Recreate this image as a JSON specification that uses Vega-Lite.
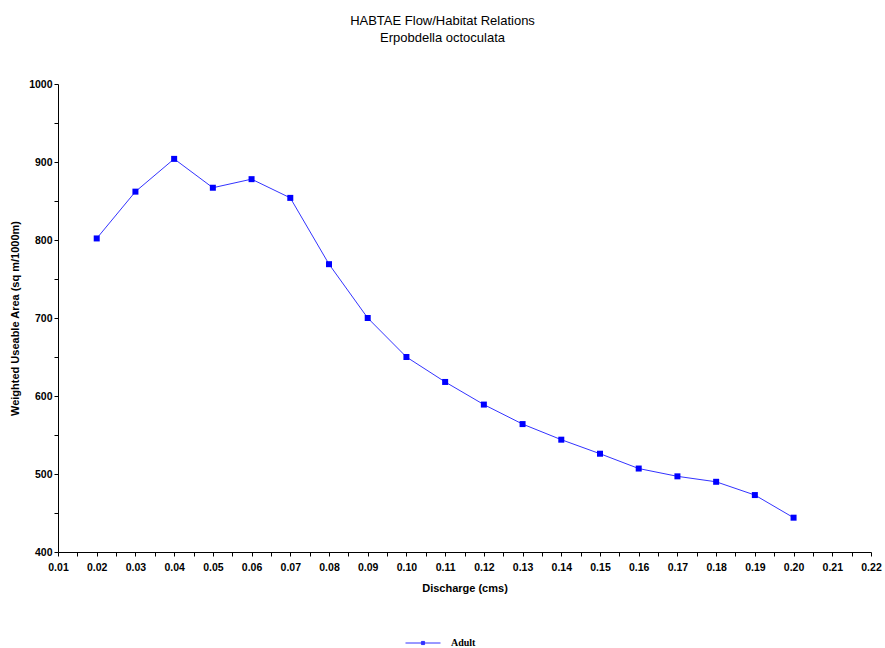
{
  "$schema": "https://vega.github.io/schema/vega-lite/v6.json",
  "width": 813,
  "height": 468,
  "autosize": "none",
  "padding": {"left": 58, "top": 84, "right": 14, "bottom": 96},
  "background": "white",
  "title": {
    "text": ["HABTAE Flow/Habitat Relations", "Erpobdella octoculata"],
    "font": "Liberation Sans",
    "fontSize": 13,
    "fontWeight": "normal",
    "lineHeight": 17,
    "anchor": "middle",
    "dx": -22,
    "offset": 34,
    "color": "black"
  },
  "config": {
    "view": {"stroke": null},
    "axis": {
      "grid": false,
      "domainColor": "black",
      "tickColor": "black",
      "labelColor": "black",
      "titleColor": "black",
      "labelFont": "Liberation Sans",
      "titleFont": "Liberation Sans",
      "labelFontWeight": "bold",
      "titleFontWeight": "bold",
      "labelFontSize": 10.5,
      "titleFontSize": 11
    }
  },
  "data": {
    "values": [
      {"q": 0.02, "wua": 802, "s": "Adult"},
      {"q": 0.03, "wua": 862, "s": "Adult"},
      {"q": 0.04, "wua": 904, "s": "Adult"},
      {"q": 0.05, "wua": 867, "s": "Adult"},
      {"q": 0.06, "wua": 878, "s": "Adult"},
      {"q": 0.07, "wua": 854, "s": "Adult"},
      {"q": 0.08, "wua": 769, "s": "Adult"},
      {"q": 0.09, "wua": 700, "s": "Adult"},
      {"q": 0.10, "wua": 650, "s": "Adult"},
      {"q": 0.11, "wua": 618, "s": "Adult"},
      {"q": 0.12, "wua": 589, "s": "Adult"},
      {"q": 0.13, "wua": 564, "s": "Adult"},
      {"q": 0.14, "wua": 544, "s": "Adult"},
      {"q": 0.15, "wua": 526, "s": "Adult"},
      {"q": 0.16, "wua": 507, "s": "Adult"},
      {"q": 0.17, "wua": 497, "s": "Adult"},
      {"q": 0.18, "wua": 490, "s": "Adult"},
      {"q": 0.19, "wua": 473, "s": "Adult"},
      {"q": 0.20, "wua": 444, "s": "Adult"}
    ]
  },
  "encoding": {
    "x": {
      "field": "q",
      "type": "quantitative",
      "scale": {"domain": [0.01, 0.22], "nice": false, "zero": false},
      "axis": {
        "title": "Discharge (cms)",
        "values": [0.01,0.015,0.02,0.025,0.03,0.035,0.04,0.045,0.05,0.055,0.06,0.065,0.07,0.075,0.08,0.085,0.09,0.095,0.1,0.105,0.11,0.115,0.12,0.125,0.13,0.135,0.14,0.145,0.15,0.155,0.16,0.165,0.17,0.175,0.18,0.185,0.19,0.195,0.2,0.205,0.21,0.215,0.22],
        "labelExpr": "round(datum.value*1000) % 10 == 0 ? format(datum.value, '.2f') : ''",
        "tickSize": 4,
        "labelPadding": 6,
        "titlePadding": 10,
        "labelFlush": false,
        "labelOverlap": false
      }
    },
    "y": {
      "field": "wua",
      "type": "quantitative",
      "scale": {"domain": [400, 1000], "nice": false, "zero": false},
      "axis": {
        "title": "Weighted Useable Area (sq m/1000m)",
        "values": [400,450,500,550,600,650,700,750,800,850,900,950,1000],
        "labelExpr": "datum.value % 100 == 0 ? format(datum.value, 'd') : ''",
        "tickSize": 4,
        "labelPadding": 2,
        "titlePadding": 8,
        "labelFlush": false,
        "labelOverlap": false
      }
    },
    "color": {
      "field": "s",
      "type": "nominal",
      "scale": {"range": ["#0000ff"]},
      "legend": {
        "title": null,
        "orient": "none",
        "legendX": 347,
        "legendY": 541,
        "symbolType": "M-1,0L1,0M-0.09,-0.09H0.09V0.09H-0.09Z",
        "symbolSize": 1225,
        "symbolStrokeWidth": 1,
        "symbolFillColor": "#0000ff",
        "symbolStrokeColor": "#0000ff",
        "labelOffset": 10,
        "labelFont": "Liberation Serif",
        "labelFontWeight": "bold",
        "labelFontSize": 10,
        "labelColor": "black"
      }
    }
  },
  "layer": [
    {"mark": {"type": "line", "strokeWidth": 1, "opacity": 0.8}},
    {"mark": {"type": "square", "size": 36, "opacity": 1, "filled": true}}
  ]
}
